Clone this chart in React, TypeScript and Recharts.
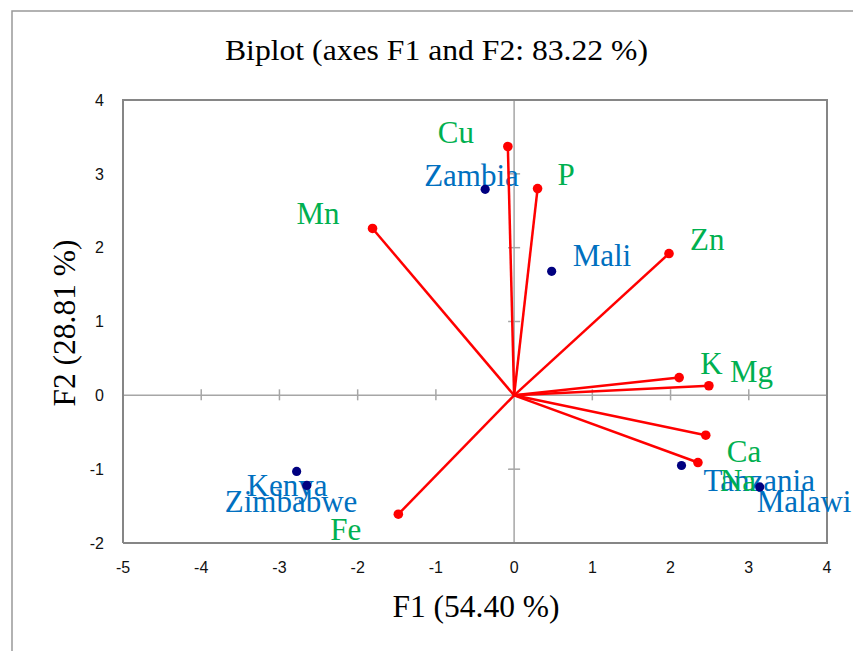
import React from 'react';
import { ScatterChart, Scatter, XAxis, YAxis } from 'recharts';

// ---- data ----
const variableNames = ['Cu', 'P', 'Mn', 'Zn', 'K', 'Mg', 'Ca', 'Na', 'Fe'];
const variableF1 = [-0.08, 0.3, -1.81, 1.98, 2.11, 2.49, 2.45, 2.35, -1.48];
const variableF2 = [3.37, 2.8, 2.26, 1.92, 0.24, 0.13, -0.54, -0.91, -1.61];

const observationNames = ['Zambia', 'Mali', 'Kenya', 'Zimbabwe', 'Tanzania', 'Malawi'];
const observationF1 = [-0.37, 0.48, -2.78, -2.65, 2.14, 3.14];
const observationF2 = [2.79, 1.68, -1.03, -1.22, -0.95, -1.24];

const xTicks = [-5, -4, -3, -2, -1, 0, 1, 2, 3, 4];
const yTicks = [-2, -1, 0, 1, 2, 3, 4];

const titleText = 'Biplot (axes F1 and F2: 83.22 %)';
const xTitle = 'F1 (54.40 %)';
const yTitle = 'F2 (28.81 %)';

// ---- layout / style ----
const labelOffset: Record<string, [number, number]> = {
  Cu: [-70, -4],
  P: [20, -4],
  Mn: [-76, -4],
  Zn: [21, -4],
  K: [21, -4],
  Mg: [21, -4],
  Ca: [21, 27],
  Na: [22, 28],
  Fe: [-68, 26],
  Zambia: [-61, -3],
  Mali: [21, -5],
  Kenya: [-50, 25],
  Zimbabwe: [-82, 27],
  Tanzania: [22, 26],
  Malawi: [-3, 25],
};

const SERIF = "'Liberation Serif', 'Times New Roman', serif";
const SANS = "'Liberation Sans', Arial, sans-serif";
const GREEN = '#00B050';
const BLUE = '#0070C0';
const RED = '#FF0000';
const NAVY = '#000080';
const AXIS_GRAY = '#A6A6A6';
const BORDER_GRAY = '#868686';

const variables = variableNames.map((name, i) => ({ name, x: variableF1[i], y: variableF2[i] }));
const observations = observationNames.map((name, i) => ({ name, x: observationF1[i], y: observationF2[i] }));

const xMin = xTicks[0];
const xMax = xTicks[xTicks.length - 1];
const yMin = yTicks[0];
const yMax = yTicks[yTicks.length - 1];

const borderPath = [
  { x: xMin, y: yMin },
  { x: xMax, y: yMin },
  { x: xMax, y: yMax },
  { x: xMin, y: yMax },
  { x: xMin, y: yMin },
];
const hZero = [{ x: xMin, y: 0 }, { x: xMax, y: 0 }];
const vZero = [{ x: 0, y: yMin }, { x: 0, y: yMax }];
const xTickMarks = xTicks.filter((t) => t !== 0).map((t) => ({ x: t, y: 0 }));
const yTickMarks = yTicks.filter((t) => t !== 0).map((t) => ({ x: 0, y: t }));

const Empty = () => <g />;

const makeLabel = (color: string) => (props: any) => {
  const { cx, cy, payload } = props;
  const off = labelOffset[payload.name] || [0, 0];
  return (
    <text x={cx + off[0]} y={cy + off[1]} fill={color} fontFamily={SERIF} fontSize={31}>
      {payload.name}
    </text>
  );
};

const makeDot = (color: string, r: number) => (props: any) => (
  <circle cx={props.cx} cy={props.cy} r={r} fill={color} />
);

const VTick = (props: any) => (
  <line x1={props.cx} x2={props.cx} y1={props.cy - 6} y2={props.cy + 5} stroke={AXIS_GRAY} strokeWidth={1.5} />
);
const HTick = (props: any) => (
  <line x1={props.cx - 6} x2={props.cx + 6} y1={props.cy} y2={props.cy} stroke={AXIS_GRAY} strokeWidth={1.5} />
);

export default function App() {
  return (
    <div style={{ position: 'absolute', left: 0, top: 0, width: 853, height: 651, background: '#fff' }}>
      <ScatterChart width={853} height={651} margin={{ top: 100, right: 26, bottom: 78, left: 0 }}>
        <XAxis
          type="number"
          dataKey="x"
          domain={[xMin, xMax]}
          ticks={xTicks}
          interval={0}
          height={30}
          axisLine={false}
          tickLine={false}
          tickSize={0}
          tickMargin={19}
          tick={{ fontFamily: SANS, fontSize: 16, fill: '#111' }}
        />
        <YAxis
          type="number"
          dataKey="y"
          domain={[yMin, yMax]}
          ticks={yTicks}
          interval={0}
          width={123}
          axisLine={false}
          tickLine={false}
          tickSize={0}
          tickMargin={19}
          tick={{ fontFamily: SANS, fontSize: 16, fill: '#111' }}
        />
        <Scatter data={hZero} line={{ stroke: AXIS_GRAY, strokeWidth: 1.5 }} shape={Empty} isAnimationActive={false} />
        <Scatter data={vZero} line={{ stroke: AXIS_GRAY, strokeWidth: 1.5 }} shape={Empty} isAnimationActive={false} />
        <Scatter data={xTickMarks} shape={VTick} isAnimationActive={false} />
        <Scatter data={yTickMarks} shape={HTick} isAnimationActive={false} />
        <Scatter data={borderPath} line={{ stroke: BORDER_GRAY, strokeWidth: 2 }} shape={Empty} isAnimationActive={false} />
        <Scatter data={observations} shape={makeLabel(BLUE)} isAnimationActive={false} />
        <Scatter data={variables} shape={makeLabel(GREEN)} isAnimationActive={false} />
        {variables.map((v) => (
          <Scatter
            key={'vec-' + v.name}
            data={[{ x: 0, y: 0 }, { x: v.x, y: v.y }]}
            line={{ stroke: RED, strokeWidth: 2.5 }}
            shape={Empty}
            isAnimationActive={false}
          />
        ))}
        <Scatter data={variables} shape={makeDot(RED, 4.8)} isAnimationActive={false} />
        <Scatter data={observations} shape={makeDot(NAVY, 4.6)} isAnimationActive={false} />
      </ScatterChart>
      <svg
        width={853}
        height={651}
        style={{ position: 'absolute', left: 0, top: 0, pointerEvents: 'none' }}
      >
        <path d="M12,651 L12,11 L853,11" fill="none" stroke="#999" strokeWidth={1.5} />
        <text
          x={436.5}
          y={60}
          textAnchor="middle"
          fontFamily={SERIF}
          fontSize={29}
          textLength={423}
          lengthAdjust="spacingAndGlyphs"
          fill="#000"
        >
          {titleText}
        </text>
        <text x={476} y={617} textAnchor="middle" fontFamily={SERIF} fontSize={31.5} fill="#000">
          {xTitle}
        </text>
        <text
          transform="translate(74.5,323) rotate(-90)"
          x={0}
          y={0}
          textAnchor="middle"
          fontFamily={SERIF}
          fontSize={31.5}
          fill="#000"
        >
          {yTitle}
        </text>
      </svg>
    </div>
  );
}
